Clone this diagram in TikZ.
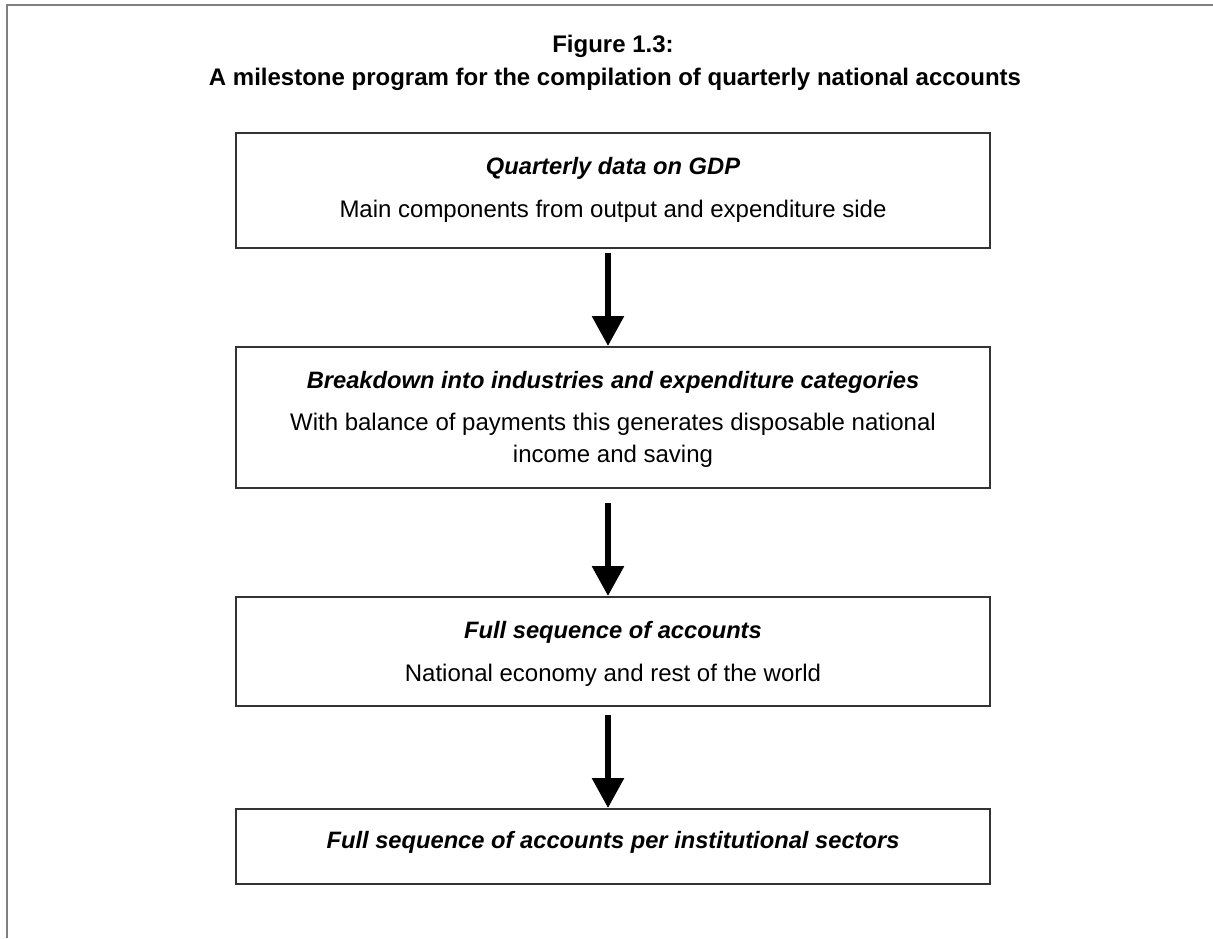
\documentclass[tikz,border=0pt]{standalone}
\usepackage{fontspec}
\setmainfont{Liberation Sans}
\usetikzlibrary{arrows.meta}
\definecolor{framegrey}{HTML}{808080}
\definecolor{boxline}{HTML}{333333}
\begin{document}
\begin{tikzpicture}[x=1pt,y=-1pt,
  frameline/.style={draw=framegrey,line width=1.5pt},
  stage/.style={draw=boxline,line width=2.2pt,minimum width=754pt,inner sep=0pt,anchor=north},
  heading/.style={font=\fontsize{23.7}{28}\selectfont\bfseries\itshape,inner sep=0pt,anchor=base},
  body/.style={font=\fontsize{24}{28}\selectfont,inner sep=0pt,anchor=base},
  title/.style={font=\fontsize{24}{28}\selectfont\bfseries,inner sep=0pt,anchor=base},
  flow/.style={line width=6pt,-{Triangle[width=31pt,length=30pt]}}]
\useasboundingbox (0,0) rectangle (1213,938);
% open frame: top and left edges only
\draw[frameline] (7,938) -- (7,5) -- (1213,5);
% titles
\node[title] (fig) at (613,52) {Figure 1.3:};
\node[title] (cap) at (615,85) {A milestone program for the compilation of quarterly national accounts};
% stage boxes
\node[stage,minimum height=115pt] (b1) at (613,132) {};
\node[stage,minimum height=141pt] (b2) at (613,346) {};
\node[stage,minimum height=109pt] (b3) at (613,596) {};
\node[stage,minimum height=75pt] (b4) at (613,808) {};
% box texts
\node[heading] (h1) at (613,174) {Quarterly data on GDP};
\node[body] (t1) at (613,217) {Main components from output and expenditure side};
\node[heading] (h2) at (613,388) {Breakdown into industries and expenditure categories};
\node[body] (t2) at (613,430) {With balance of payments this generates disposable national};
\node[body] (t2b) at (613,462) {income and saving};
\node[heading] (h3) at (613,638) {Full sequence of accounts};
\node[body] (t3) at (613,681) {National economy and rest of the world};
\node[heading] (h4) at (613,848) {Full sequence of accounts per institutional sectors};
% arrows between stages
\draw[flow] ([xshift=-5pt,yshift=-4pt]b1.south) -- ([xshift=-5pt]b2.north);
\draw[flow] ([xshift=-5pt,yshift=-14pt]b2.south) -- ([xshift=-5pt]b3.north);
\draw[flow] ([xshift=-5pt,yshift=-8pt]b3.south) -- ([xshift=-5pt]b4.north);
\end{tikzpicture}
\end{document}
